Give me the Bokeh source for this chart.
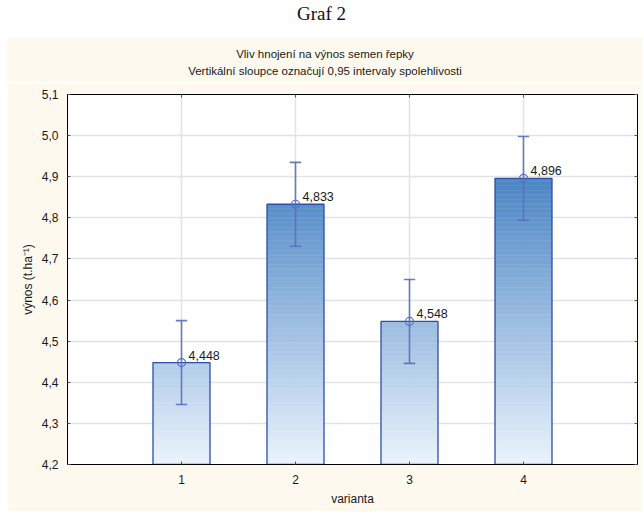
import numpy as np
from bokeh.plotting import figure
from bokeh.layouts import column
from bokeh.models import (Div, LinearAxis, FixedTicker, CustomJSTickFormatter,
                          Range1d, ColumnDataSource)
from bokeh.core.properties import value
from bokeh.embed import file_html
from bokeh.resources import INLINE

# ---- data ----
varianta = [1, 2, 3, 4]
vynos = [4.448, 4.833, 4.548, 4.896]
ci_low = [4.346, 4.731, 4.446, 4.794]
ci_high = [4.550, 4.935, 4.650, 4.998]
y_ticks = [4.2, 4.3, 4.4, 4.5, 4.6, 4.7, 4.8, 4.9, 5.0, 5.1]
x_ticks = [1, 2, 3, 4]

graf_title = "Graf 2"
main_title = "Vliv hnojení na výnos semen řepky"
sub_title = "Vertikální sloupce označují 0,95 intervaly spolehlivosti"
x_label = "varianta"
y_label = "výnos (t.ha⁻¹)"

# ---- style ----
CREAM = "#fdf9ef"
FONT = "Liberation Sans"
BAR_W = 0.5
CAP_W = 0.1
ERR_COL = "#5a6fbe"
OUT_COL = "#2b4ea6"
C_BOT = np.array([234, 243, 252])
C_TOP = np.array([74, 132, 196])
Y0, Y1 = y_ticks[0], 4.9

def grad_color(y):
    t = min(max((y - Y0) / (Y1 - Y0), 0.0), 1.0)
    c = C_BOT + (C_TOP - C_BOT) * t
    return "#%02x%02x%02x" % tuple(int(round(v)) for v in c)

p = figure(frame_width=570, frame_height=370, output_backend="svg", toolbar_location=None,
           x_range=Range1d(0, 5), y_range=Range1d(y_ticks[0], y_ticks[-1]),
           min_border_left=60, min_border_right=5, min_border_top=12, min_border_bottom=47,
           border_fill_color=CREAM, background_fill_color="white")
p.margin = (0, 0, 0, 7)
p.outline_line_color = "black"
p.outline_line_width = 1

xa = p.xaxis[0]
ya = p.yaxis[0]

fmt = CustomJSTickFormatter(code="return tick.toFixed(1).replace('.', ',');")
ya.ticker = FixedTicker(ticks=y_ticks)
ya.formatter = fmt
xa.ticker = FixedTicker(ticks=x_ticks)
for ax in (xa, ya):
    ax.major_tick_in = 3
    ax.major_tick_out = 0
    ax.minor_tick_line_color = None
    ax.axis_line_color = "black"
    ax.major_tick_line_color = "#555555"
    ax.major_label_text_font = FONT
    ax.major_label_text_font_size = "12px"
    ax.major_label_text_color = "#1a1a1a"
    ax.axis_label_text_font = FONT
    ax.axis_label_text_font_size = "12px"
    ax.axis_label_text_font_style = "normal"
    ax.axis_label_text_color = "#1a1a1a"
xa.axis_label = x_label
ya.axis_label = y_label
xa.major_label_standoff = 10
xa.axis_label_standoff = 5
ya.major_label_standoff = 9
ya.axis_label_standoff = 4

# inward ticks on top and right
for loc, tick in (("right", FixedTicker(ticks=y_ticks)), ("above", FixedTicker(ticks=x_ticks))):
    ax = LinearAxis(ticker=tick, major_tick_in=3, major_tick_out=0, minor_tick_line_color=None,
                    major_label_text_font_size="0px", major_label_standoff=0,
                    axis_line_color="black", major_tick_line_color="#555555")
    p.add_layout(ax, loc)

p.xgrid.grid_line_color = "#e3e3e3"
p.ygrid.grid_line_color = "#e3e3e3"
p.xgrid.grid_line_width = 1.5
p.ygrid.grid_line_width = 1.5

# gradient bars built from stripes
step = 0.002
L, R, B, T, C = [], [], [], [], []
for x, v in zip(varianta, vynos):
    ys = np.arange(y_ticks[0], v, step)
    for y in ys:
        L.append(x - BAR_W / 2); R.append(x + BAR_W / 2)
        B.append(y); T.append(min(y + step * 1.6, v))
        C.append(grad_color(y + step / 2))
p.quad(left=L, right=R, bottom=B, top=T, fill_color=C, line_color=None)

src = ColumnDataSource(dict(x=varianta, top=vynos, low=ci_low, high=ci_high,
                            left=[x - BAR_W / 2 for x in varianta],
                            right=[x + BAR_W / 2 for x in varianta],
                            cl=[x - CAP_W / 2 for x in varianta],
                            cr=[x + CAP_W / 2 for x in varianta],
                            lab=[f"{v:.3f}".replace(".", ",") for v in vynos],
                            bottom=[y_ticks[0]] * len(varianta)))
p.quad(left="left", right="right", bottom="bottom", top="top", source=src,
       fill_color=None, line_color=OUT_COL, line_width=1.3)
p.segment(x0="x", x1="x", y0="low", y1="high", source=src, line_color=ERR_COL, line_width=1.6, line_alpha=0.9)
p.segment(x0="cl", x1="cr", y0="low", y1="low", source=src, line_color=ERR_COL, line_width=1.6, line_alpha=0.9)
p.segment(x0="cl", x1="cr", y0="high", y1="high", source=src, line_color=ERR_COL, line_width=1.6, line_alpha=0.9)
p.scatter(x="x", y="top", source=src, marker="circle", size=8, fill_color=None,
          line_color=ERR_COL, line_width=1.2)
p.text(x="x", y="top", text="lab", source=src, x_offset=7, y_offset=-3,
       text_font=value(FONT), text_font_size="12.5px", text_color="#1a1a1a",
       text_baseline="bottom", text_align="left")

head_html = (
    '<div style="width:643px;height:38px;box-sizing:border-box;text-align:center;'
    'font-family:\'Liberation Serif\';font-size:19px;line-height:19px;padding-top:4px;color:#111">'
    + graf_title + '</div>'
    '<div style="margin-left:7px;width:636px;height:44px;box-sizing:border-box;background:' + CREAM + ';'
    'text-align:center;font-family:\'Liberation Sans\';font-size:11.5px;line-height:17px;'
    'padding-top:8px;color:#1a1a1a">'
    + main_title + '<br>' + sub_title + '</div>'
)
div = Div(text=head_html, width=643, height=82, margin=0)

layout = column(div, p, spacing=0)
open("out.html", "w").write(file_html(layout, INLINE))
